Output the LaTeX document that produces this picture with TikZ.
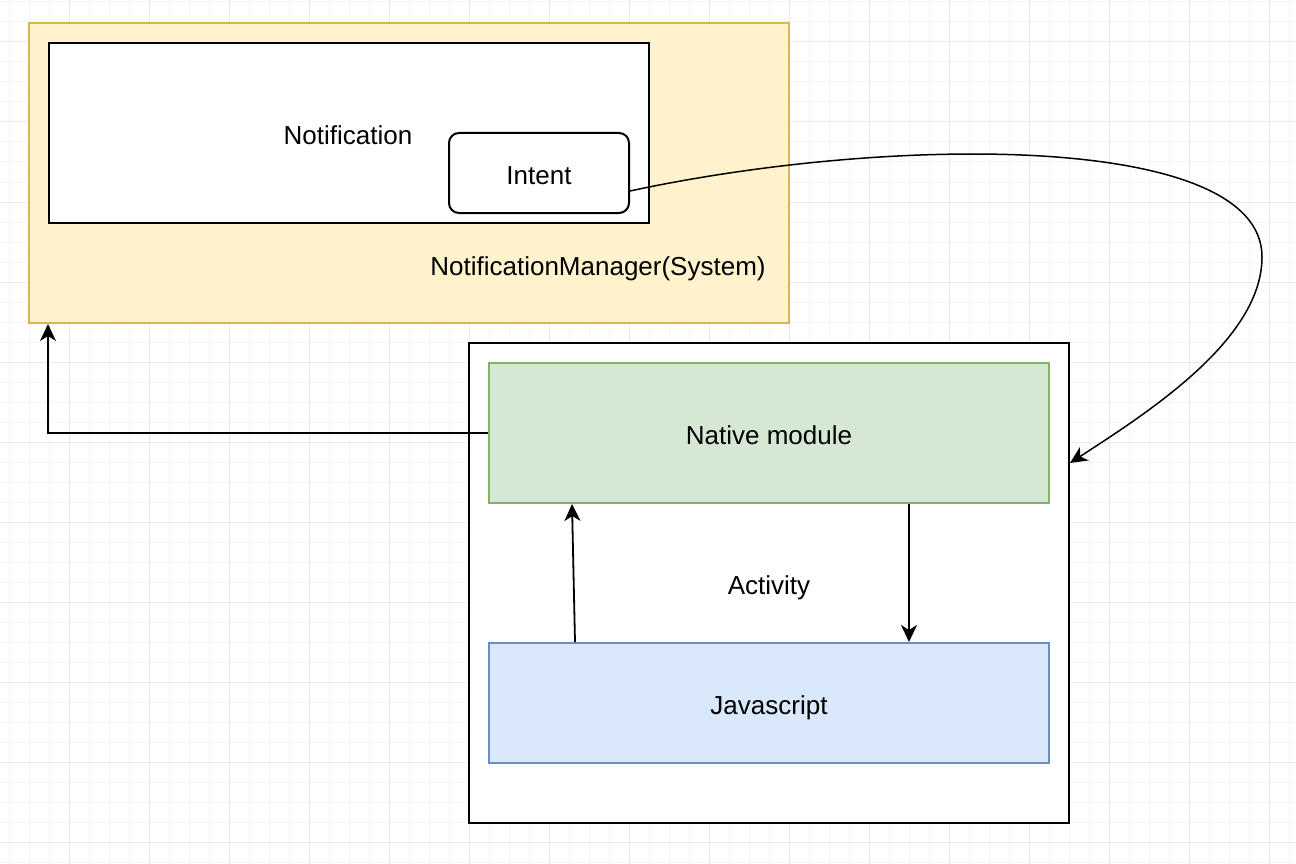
\documentclass[tikz,border=0pt]{standalone}
\usepackage{fontspec}
\setmainfont{Liberation Sans}
\usetikzlibrary{arrows.meta}
\definecolor{ylwfill}{HTML}{FFF2CC}
\definecolor{ylwdraw}{HTML}{D6B656}
\definecolor{grnfill}{HTML}{D5E8D4}
\definecolor{grndraw}{HTML}{82B366}
\definecolor{blufill}{HTML}{DAE8FC}
\definecolor{bludraw}{HTML}{6C8EBF}
\definecolor{gridminor}{HTML}{F5F5F5}
\definecolor{gridmajor}{HTML}{EAEAEA}
\tikzset{
  txt/.style={font=\fontsize{26}{30}\selectfont, text height=23pt, text depth=0pt},
  boxbase/.style={inner sep=0pt, line width=2pt, txt},
  plainbox/.style={boxbase, draw=black, fill=white},
  ylwbox/.style={boxbase, draw=ylwdraw, fill=ylwfill},
  grnbox/.style={boxbase, draw=grndraw, fill=grnfill},
  blubox/.style={boxbase, draw=bludraw, fill=blufill},
  lbl/.style={inner sep=0pt, txt},
  arr/.style={line width=1.8pt, -{Stealth[length=17pt, width=16pt, inset=5pt]}},
  curvearr/.style={line width=1.5pt, -{Stealth[length=17pt, width=16pt, inset=5pt]}},
}
\begin{document}
\begin{tikzpicture}[x=1pt, y=-1pt]
\useasboundingbox (0,0) rectangle (1296,864);
\fill[white] (0,0) rectangle (1296,864);
% grid
\foreach \gx in {9,29,...,1295} \draw[gridminor, line width=1pt] (\gx,0) -- (\gx,864);
\foreach \gy in {2,22,...,863} \draw[gridminor, line width=1pt] (0,\gy) -- (1296,\gy);
\foreach \gx in {69,149,...,1295} \draw[gridmajor, line width=1pt] (\gx,0) -- (\gx,864);
\foreach \gy in {42,122,...,863} \draw[gridmajor, line width=1pt] (0,\gy) -- (1296,\gy);

% boxes
\node[ylwbox, minimum width=760pt, minimum height=300pt] (nm) at (409,173) {};
\node[plainbox, minimum width=600pt, minimum height=180pt] (notif) at (349,133) {};
\node[lbl] (notiflbl) at (348,133) {Notification};
\node[plainbox, rounded corners=10pt, minimum width=180pt, minimum height=80pt] (intent) at (539,173) {Intent};
\node[lbl] (nmlbl) at (598,264) {NotificationManager(System)};

\node[plainbox, minimum width=600pt, minimum height=480pt] (act) at (769,583) {Activity};
\node[grnbox, minimum width=560pt, minimum height=140pt] (native) at (769,433) {Native module};
\node[blubox, minimum width=560pt, minimum height=120pt] (js) at (769,703) {Javascript};

% connectors
\coordinate (nmtarget) at ([xshift=20pt]nm.south west);
\draw[arr] (native.west) -| (nmtarget);
\draw[arr] ([xshift=140pt]native.south) -- ([xshift=140pt]js.north);
\draw[arr] ([xshift=-194pt]js.north) -- ([xshift=-197pt]native.south);
\coordinate (bend) at (1262,257);
\draw[curvearr] ([yshift=-18pt]intent.east) .. controls (890,135) and (1262,132) .. (bend)
  .. controls (1262,340) and (1147,413) .. ([yshift=120pt]act.east);
\end{tikzpicture}
\end{document}
